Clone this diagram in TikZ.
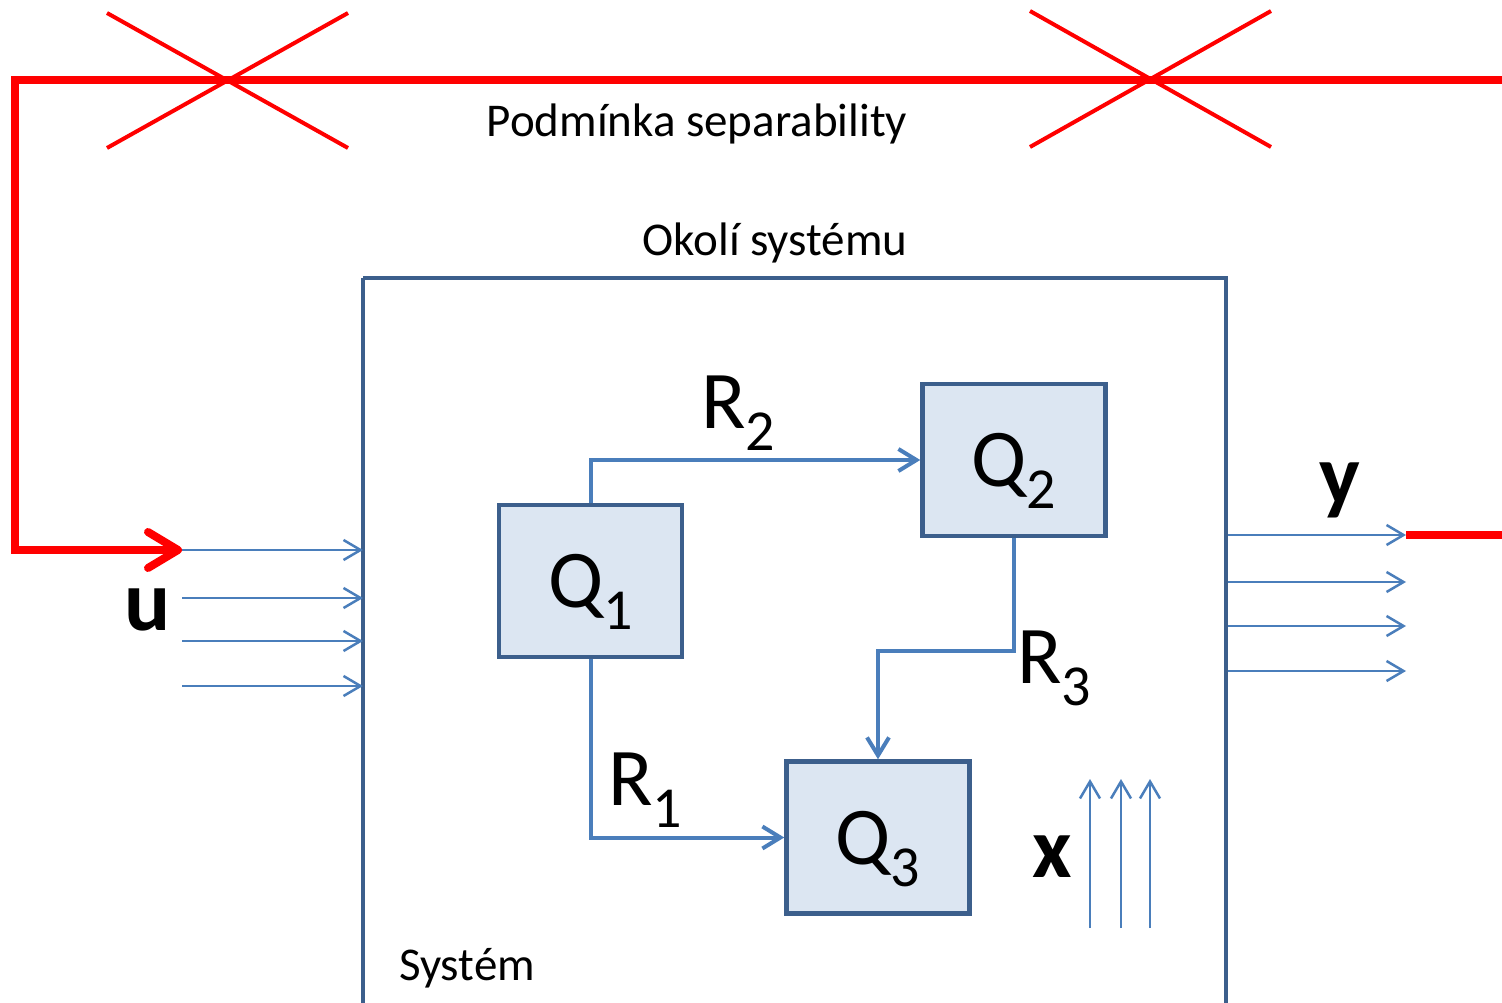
\documentclass[tikz,border=0pt]{standalone}
\usepackage{fontspec}
\setmainfont{Carlito}
\usetikzlibrary{arrows.meta}
\definecolor{sysblue}{HTML}{3C5F8C}
\definecolor{qfill}{HTML}{DCE6F2}
\definecolor{lineblue}{HTML}{4A7EBB}
\definecolor{sepred}{HTML}{FF0000}
\newcommand\mysub[1]{\raisebox{-0.27em}{\fontsize{58}{64}\selectfont #1}}
\tikzset{
  qbox/.style={draw=sysblue, fill=qfill, line width=4.5pt, minimum width=183pt, minimum height=152pt, inner sep=0pt, text depth=0pt, font=\fontsize{82}{90}\selectfont},
  sysbox/.style={draw=sysblue, line width=4.5pt},
  flow/.style={draw=lineblue, line width=4pt, -{Straight Barb[length=18pt,width=22pt]}},
  io/.style={draw=lineblue, line width=2.5pt, -{Straight Barb[length=17pt,width=20pt]}},
  sep/.style={draw=sepred, line width=8pt},
  cross/.style={draw=sepred, line width=4pt},
  rlabel/.style={font=\fontsize{82}{90}\selectfont, inner sep=0pt, anchor=base west},
  biglabel/.style={font=\fontsize{86}{90}\selectfont\bfseries, inner sep=0pt},
  txt/.style={font=\fontsize{47}{54}\selectfont, inner sep=0pt}
}
\begin{document}
\begin{tikzpicture}[x=1pt,y=-1pt]
\useasboundingbox (0,0) rectangle (1502,1003);
% system box
\draw[sysbox] (363,278) -- (363,1015) (363,278) -- (1226,278) -- (1226,1015);
\node[txt] (okoli) at (775,243) {Okolí systému};
\node[txt] (system) at (467,968) {Systém};
\node[txt] (podm) at (697,124) {Podmínka separability};
% Q boxes
\node[qbox] (q1) at (590.5,581) {Q\mysub{1}};
\node[qbox] (q2) at (1014,460) {Q\mysub{2}};
\node[qbox] (q3) at (878,837.5) {Q\mysub{3}};
% flows
\draw[flow] (q1.north) |- (q2.west);
\draw[flow] (q1.south) |- (q3.west);
\draw[flow] (q2.south) -- ++(0,113) -| (q3.north);
\node[rlabel] (r2) at (701,428) {R\mysub{2}};
\node[rlabel] (r1) at (608,805) {R\mysub{1}};
\node[rlabel] (r3) at (1017,683) {R\mysub{3}};
% inputs
\foreach \yy/\nm in {550/ia,598/ib,641/ic,686/id}{
  \coordinate (\nm s) at (182,\yy);
  \coordinate (\nm e) at (363,\yy);
  \draw[io] (\nm s) -- (\nm e);
}
\node[biglabel] (u) at (148,610) {u};
% outputs
\foreach \yy/\nm in {535/oa,582/ob,626/oc,671/od}{
  \coordinate (\nm s) at (1228,\yy);
  \coordinate (\nm e) at (1406,\yy);
  \draw[io] (\nm s) -- (\nm e);
}
\node[biglabel] (y) at (1340,490) {y};
% states
\foreach \xx/\nm in {1090/xa,1121/xb,1150/xc}{
  \coordinate (\nm s) at (\xx,928);
  \coordinate (\nm e) at (\xx,779);
  \draw[io] (\nm s) -- (\nm e);
}
\node[biglabel] (x) at (1052,857) {x};
% separability (red)
\coordinate (redR) at (1502,535);
\draw[sep] (oae) -- (redR);
\coordinate (topR) at (1502,80);
\coordinate (topL) at (15,80);
\coordinate (botL) at (15,550);
\draw[sep, -{Straight Barb[round,length=30pt,width=36pt]}] (topR) -- (topL) -- (botL) -- (ias);
% crosses
\coordinate (c1a) at (107,13); \coordinate (c1b) at (348,148);
\coordinate (c1c) at (107,148); \coordinate (c1d) at (348,13);
\draw[cross] (c1a) -- (c1b) (c1c) -- (c1d);
\coordinate (c2a) at (1030,11); \coordinate (c2b) at (1271,147);
\coordinate (c2c) at (1030,147); \coordinate (c2d) at (1271,11);
\draw[cross] (c2a) -- (c2b) (c2c) -- (c2d);
\end{tikzpicture}
\end{document}
